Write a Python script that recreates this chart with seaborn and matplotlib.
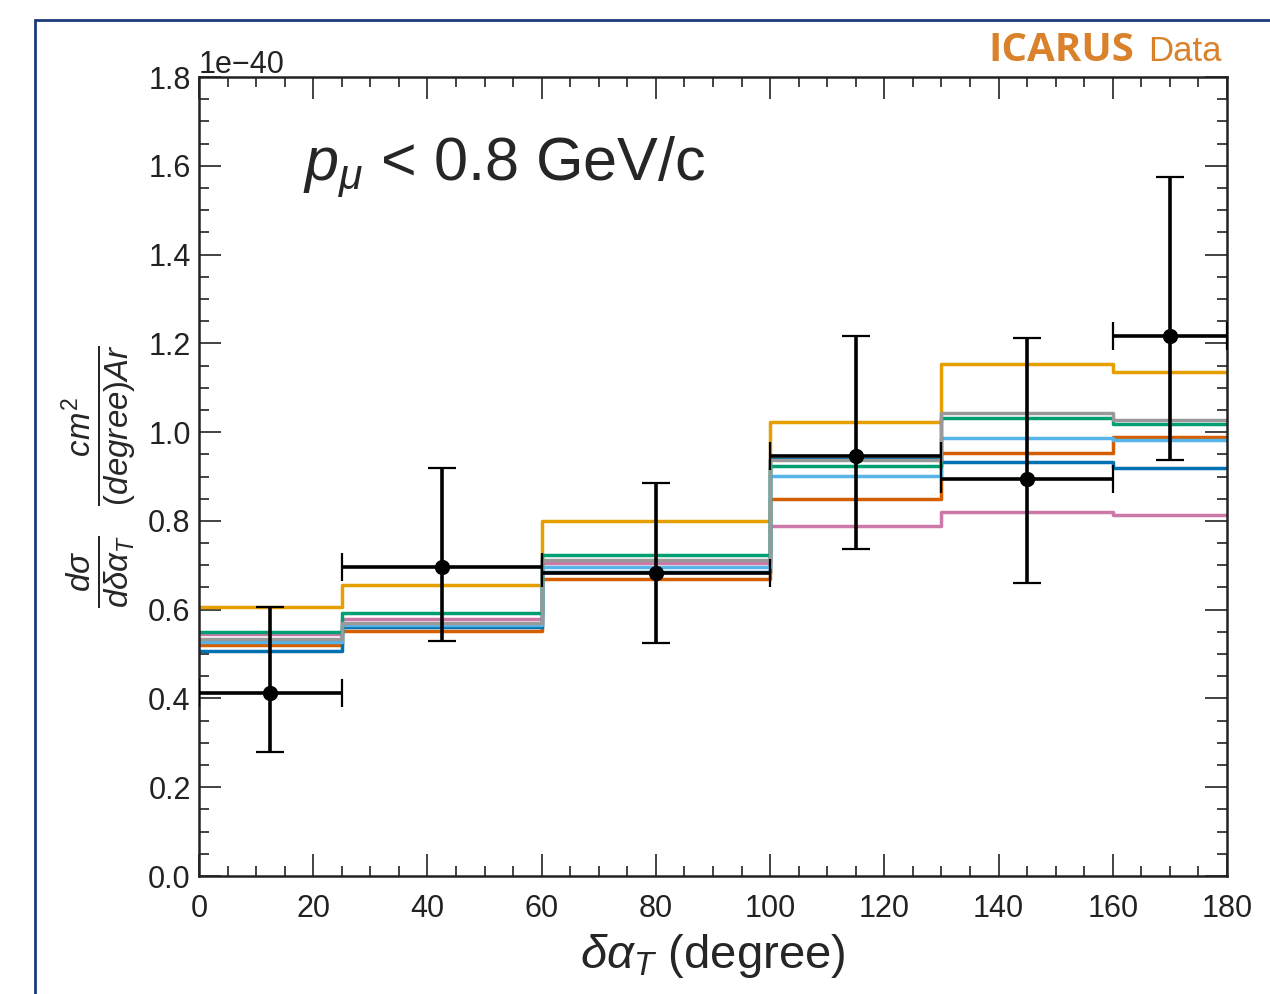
import numpy as np
import pandas as pd
import matplotlib
matplotlib.use("Agg")
import matplotlib.pyplot as plt
from matplotlib.patches import Rectangle
from matplotlib.ticker import MultipleLocator
import seaborn as sns

# Binning in delta alpha_T (degree)
bin_edges = [0, 25, 60, 100, 130, 160, 180]

# Measured cross section, in units of 1e-40 cm^2 / (degree Ar)
data_xsec = [0.412, 0.696, 0.682, 0.946, 0.894, 1.216]
data_err_up = [0.194, 0.223, 0.203, 0.270, 0.318, 0.358]
data_err_down = [0.133, 0.167, 0.157, 0.210, 0.234, 0.279]

# Generator predictions, in units of 1e-40 cm^2 / (degree Ar)
pred_orange = [0.605, 0.655, 0.800, 1.022, 1.153, 1.136]
pred_pink = [0.545, 0.580, 0.705, 0.789, 0.819, 0.814]
pred_vermillion = [0.520, 0.552, 0.668, 0.849, 0.952, 0.989]
pred_blue = [0.507, 0.560, 0.685, 0.940, 0.933, 0.920]
pred_skyblue = [0.528, 0.565, 0.697, 0.901, 0.987, 0.983]
pred_green = [0.549, 0.592, 0.723, 0.923, 1.031, 1.019]
pred_grey = [0.535, 0.571, 0.712, 0.938, 1.042, 1.027]

UNIT = 1e-40

predictions = {
    "orange": (pred_orange, "#E69F00"),
    "pink": (pred_pink, "#CC79A7"),
    "vermillion": (pred_vermillion, "#D55E00"),
    "blue": (pred_blue, "#0072B2"),
    "skyblue": (pred_skyblue, "#56B4E9"),
    "green": (pred_green, "#009E73"),
    "grey": (pred_grey, "#999999"),
}

sns.set_style("ticks")
plt.rcParams["font.family"] = ["Liberation Sans", "DejaVu Sans"]
plt.rcParams["mathtext.fontset"] = "custom"
plt.rcParams["mathtext.rm"] = "Liberation Sans"
plt.rcParams["mathtext.it"] = "Liberation Sans:italic"
plt.rcParams["mathtext.bf"] = "Liberation Sans:bold"

fig = plt.figure(figsize=(12.7, 9.94), dpi=100)
ax = fig.add_axes([199 / 1270, 1 - 876 / 994, 1028 / 1270, 799 / 994])

# Step histograms for each prediction
rows = []
for name, (vals, _) in predictions.items():
    ys = list(vals) + [vals[-1]]
    for x, y in zip(bin_edges, ys):
        rows.append({"x": x, "y": y * UNIT, "model": name})
df = pd.DataFrame(rows)
palette = {name: c for name, (_, c) in predictions.items()}
sns.lineplot(data=df, x="x", y="y", hue="model", palette=palette,
             drawstyle="steps-post", linewidth=2.5, legend=False,
             sort=False, estimator=None, ax=ax)

# Data points with total uncertainties
edges = np.array(bin_edges, dtype=float)
centers = 0.5 * (edges[:-1] + edges[1:])
half_w = 0.5 * np.diff(edges)
yv = np.array(data_xsec) * UNIT
yerr = np.vstack([np.array(data_err_down), np.array(data_err_up)]) * UNIT
ax.errorbar(centers, yv, xerr=half_w, yerr=yerr, fmt="o", color="black",
            markersize=10, elinewidth=2.6, capsize=10, capthick=1.6,
            zorder=10)

ax.set_xlim(0, 180)
ax.set_ylim(0, 1.8e-40)
ax.xaxis.set_major_locator(MultipleLocator(20))
ax.xaxis.set_minor_locator(MultipleLocator(5))
ax.yaxis.set_major_locator(MultipleLocator(0.2e-40))
ax.yaxis.set_minor_locator(MultipleLocator(0.05e-40))
ax.tick_params(which="both", direction="in", top=True, right=True,
               colors="#222222", width=1.2)
ax.tick_params(which="major", length=16, labelsize=22)
ax.tick_params(which="minor", length=7)
ax.tick_params(axis="x", which="major", pad=13)
ax.tick_params(axis="y", which="major", pad=6)
for sp in ax.spines.values():
    sp.set_linewidth(1.8)
    sp.set_color("#222222")
ax.yaxis.get_offset_text().set_fontsize(22)

ax.set_xlabel(r"$\delta\alpha_T$ (degree)", fontsize=34, labelpad=6)
ax.set_ylabel(r"$\frac{d\sigma}{d\delta\alpha_T}\ \ \frac{cm^2}{(degree)Ar}$",
              fontsize=34, labelpad=6)

ax.text(0.101, 0.871, r"$p_{\mu}$ < 0.8 GeV/c", transform=ax.transAxes,
        fontsize=44, va="baseline", ha="left")

# Experiment tag
fig.text(1222 / 1270, 1 - 61 / 994, "Data", color="#D9822B", fontsize=25,
         ha="right", va="baseline", family=["Liberation Sans", "DejaVu Sans"])
fig.text(1134 / 1270, 1 - 61 / 994, "ICARUS", color="#D9822B", fontsize=29,
         fontweight="bold", ha="right", va="baseline",
         family=["Open Sans", "DejaVu Sans"])

# Slide frame
fig.patches.append(Rectangle((35 / 1270, -0.1), 1.2, 0.1 + (1 - 20 / 994),
                             transform=fig.transFigure, fill=False,
                             edgecolor="#1F3A7A", linewidth=2))

fig.savefig("out.png", dpi=100)
